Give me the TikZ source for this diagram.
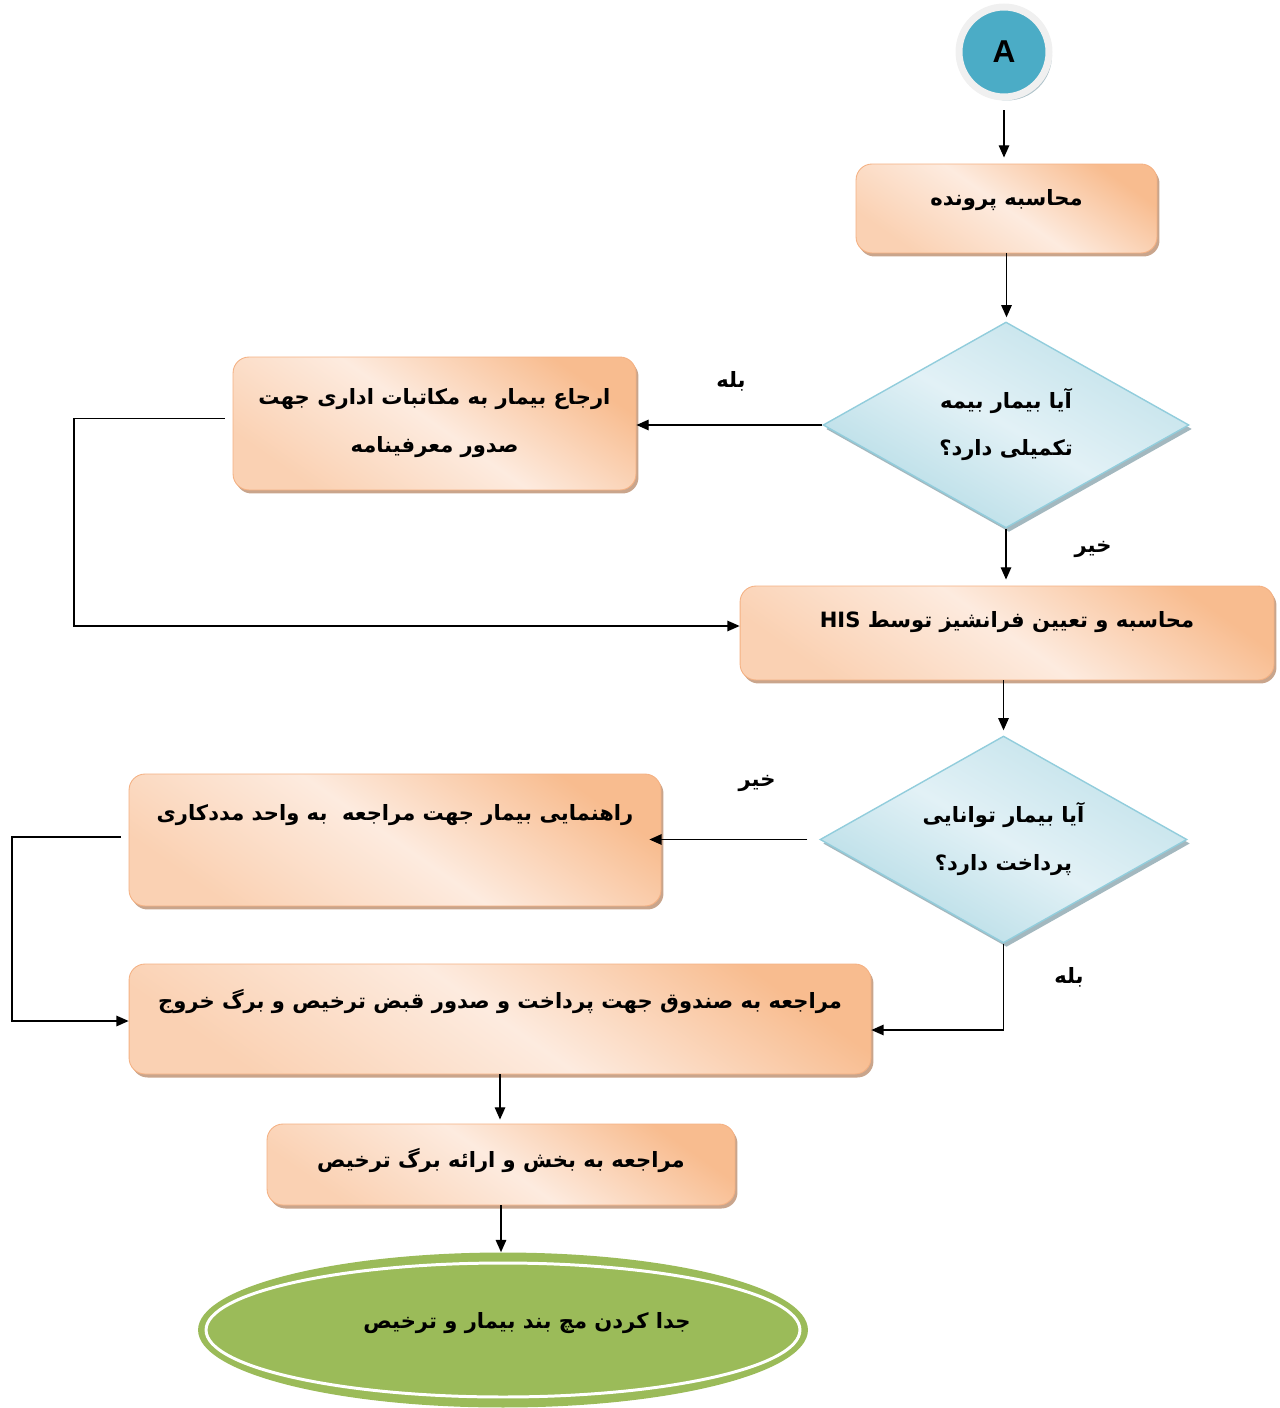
\documentclass[tikz,border=0pt]{standalone}
\usepackage{fontspec}
\usetikzlibrary{arrows.meta,shapes.geometric,shadows,calc}
\TeXXeTstate=1
\newfontfamily\fa[Script=Arabic]{DejaVu Sans}
\newfontfamily\lat{Liberation Sans}
\definecolor{bxdark}{HTML}{F8BC8F}
\definecolor{bxlight}{HTML}{FDEBDF}
\definecolor{bxedge}{HTML}{F4B183}
\definecolor{bxshadow}{HTML}{C9A58C}
\definecolor{dmlight}{HTML}{E2F1F6}
\definecolor{dmdark}{HTML}{B3DBE5}
\definecolor{dmedge}{HTML}{92CDDC}
\definecolor{dmshadow}{HTML}{A3B8BF}
\definecolor{cblue}{HTML}{4BACC6}
\definecolor{ring}{HTML}{F0F0F0}
\definecolor{cshadow}{HTML}{AFC3CA}
\definecolor{grn}{HTML}{9BBB59}
\begin{document}
\begin{tikzpicture}[x=0.02cm,y=-0.02cm,
  box/.style={rectangle, rounded corners=0.32cm, draw=bxedge, line width=0.5pt,
    top color=bxdark, bottom color=bxdark!55!bxlight, middle color=bxlight, shading angle=-35,
    drop shadow={fill=bxshadow, opacity=1, shadow xshift=0.05cm, shadow yshift=-0.07cm},
    inner sep=0pt},
  dia/.style={diamond, aspect=1.78, draw=dmedge, line width=0.8pt, inner sep=0pt,
    top color=dmdark!70!dmlight, bottom color=dmdark, middle color=dmlight, shading angle=-30,
    drop shadow={fill=dmshadow, opacity=1, shadow xshift=0.06cm, shadow yshift=-0.08cm}},
  txt/.style={font=\fa\bfseries\fontsize{12}{28}\selectfont, text=black, align=center},
  lbl/.style={font=\fa\bfseries\fontsize{12}{14}\selectfont, text=black},
  arr/.style={-{Triangle[length=7pt,width=6pt]}, line width=0.8pt, black},
  ln/.style={line width=0.8pt, black}
]
\useasboundingbox (0,0) rectangle (1279,1408);

% start circle
\node[circle, minimum size=1.8cm, fill=cblue, draw=ring, line width=0.14cm,
  drop shadow={fill=cshadow, opacity=1, shadow xshift=0.06cm, shadow yshift=-0.07cm},
  font=\lat\bfseries\fontsize{18}{20}\selectfont] (A) at (1004,52) {A};

% process boxes
\node[box, minimum width=6.02cm, minimum height=1.78cm,
  label={[txt, yshift=0.16cm]center:{\beginR محاسبه پرونده\endR}}] (b1) at (1006.5,208.5) {};
\node[box, minimum width=8.06cm, minimum height=2.66cm] (b2) at (434.5,423.5)
  {\begin{tabular}{@{}c@{}}\fa\bfseries\fontsize{12}{14}\selectfont\beginR ارجاع بیمار به مکاتبات اداری جهت\endR\\[0.5cm]
   \fa\bfseries\fontsize{12}{14}\selectfont\beginR صدور معرفینامه\endR\end{tabular}};
\node[box, minimum width=10.68cm, minimum height=1.88cm,
  label={[txt, yshift=0.22cm]center:{\beginR محاسبه و تعیین فرانشیز توسط \beginL HIS\endL\endR}}] (b3) at (1007,633) {};
\node[box, minimum width=10.64cm, minimum height=2.64cm,
  label={[txt, yshift=0.5cm]center:{\beginR راهنمایی بیمار جهت مراجعه\ \ به واحد مددکاری\endR}}] (b4) at (395,840) {};
\node[box, minimum width=14.84cm, minimum height=2.2cm,
  label={[txt, yshift=0.36cm]center:{\beginR مراجعه به صندوق جهت پرداخت و صدور قبض ترخیص و برگ خروج\endR}}] (b5) at (500,1019) {};
\node[box, minimum width=9.36cm, minimum height=1.62cm,
  label={[txt, yshift=0.08cm]center:{\beginR مراجعه به بخش و ارائه برگ ترخیص\endR}}] (b6) at (501,1164.5) {};

% decisions
\node[dia, minimum width=7.32cm, minimum height=4.12cm] (d1) at (1006,425)
  {\begin{tabular}{@{}c@{}}\fa\bfseries\fontsize{12}{14}\selectfont\beginR آیا بیمار بیمه\endR\\[0.5cm]
   \fa\bfseries\fontsize{12}{14}\selectfont\beginR تکمیلی دارد؟\endR\end{tabular}};
\node[dia, minimum width=7.34cm, minimum height=4.14cm] (d2) at (1003.5,839.5)
  {\begin{tabular}{@{}c@{}}\fa\bfseries\fontsize{12}{14}\selectfont\beginR آیا بیمار توانایی\endR\\[0.5cm]
   \fa\bfseries\fontsize{12}{14}\selectfont\beginR پرداخت دارد؟\endR\end{tabular}};

% terminal ellipse
\node[ellipse, minimum width=12.2cm, minimum height=3.1cm, fill=grn, inner sep=0pt] (E) at (503,1330) {};
\draw[white, line width=1.7pt] (E.center) ellipse [x radius=5.94cm, y radius=1.34cm];
\node[lbl] (Et) at (527,1323) {\beginR جدا کردن مچ بند بیمار و ترخیص\endR};

% branch labels
\node[lbl] (l1) at (731,381) {\beginR بله\endR};
\node[lbl] (l2) at (1093,549) {\beginR خیر\endR};
\node[lbl] (l3) at (757,783) {\beginR خیر\endR};
\node[lbl] (l4) at (1069,977) {\beginR بله\endR};

% connectors
\coordinate (L1) at (74,520);
\coordinate (L2) at (12,930);
\draw[arr] ([yshift=-0.2cm]A.south) -- ([yshift=0.12cm]A.south |- b1.north);
\draw[arr] (b1.south) -- ([yshift=0.08cm]b1.south |- d1.north);
\draw[arr] (d1.west) -- (d1.west -| b2.east);
\draw[arr] ([xshift=-0.16cm,yshift=0.1cm]b2.west) -| (L1) |- ([yshift=0.14cm]b3.west);
\draw[arr] (d1.south) -- ([yshift=0.12cm]d1.south |- b3.north);
\draw[arr] (d2.north |- b3.south) -- ([yshift=0.1cm]d2.north);
\draw[arr] ([xshift=-0.24cm]d2.west) -- ([xshift=-0.24cm]d2.west -| b4.east);
\draw[arr] ([xshift=-0.16cm,yshift=0.06cm]b4.west) -| (L2) |- ([yshift=-0.04cm]b5.west);
\draw[arr] (d2.south) |- ([yshift=-0.22cm]b5.east);
\draw[arr] (b5.south) -- ([yshift=0.08cm]b5.south |- b6.north);
\draw[arr] (b6.south) -- (b6.south |- E.north);
\end{tikzpicture}
\end{document}
